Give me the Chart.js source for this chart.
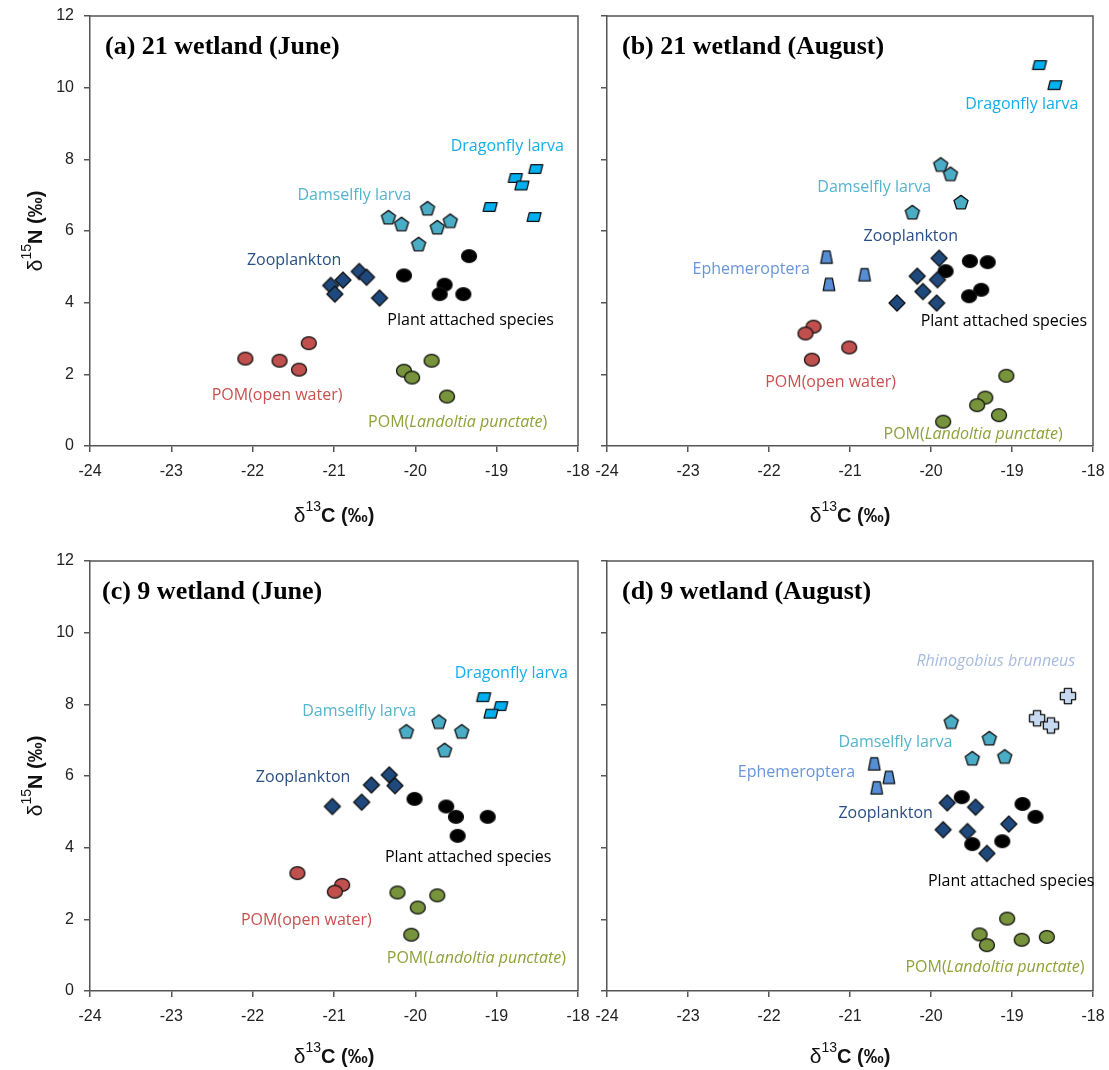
<!DOCTYPE html>
<html lang="en">
<head>
<meta charset="UTF-8">
<title>δ13C – δ15N biplots, wetlands 21 and 9</title>
<script src="https://cdn.jsdelivr.net/npm/chart.js"></script>
<style>
  body { margin: 0; background: #fff; }
  #wrap { position: relative; width: 1109px; height: 1070px; background: #fff; }
  #wrap canvas { position: absolute; }
</style>
</head>
<body>
<div id="wrap">
  <canvas id="pa" width="595" height="535" style="left:0;top:0"></canvas>
  <canvas id="pb" width="514" height="535" style="left:595px;top:0"></canvas>
  <canvas id="pc" width="595" height="525" style="left:0;top:545px"></canvas>
  <canvas id="pd" width="514" height="525" style="left:595px;top:545px"></canvas>
</div>
<script>
// axes
const xTicks = [-24, -23, -22, -21, -20, -19, -18];
const yTicks = [0, 2, 4, 6, 8, 10, 12];

// groups (index used below)
const groups = ['Dragonfly larva', 'Damselfly larva', 'Zooplankton', 'Ephemeroptera',
  'Plant attached species', 'POM(open water)', 'POM(Landoltia punctate)', 'Rhinogobius brunneus'];

// (a) 21 wetland, June   [d13C, d15N]
const aDragonfly = [[-18.52, 7.73], [-18.77, 7.48], [-18.69, 7.27], [-19.08, 6.67], [-18.54, 6.39]];
const aDamselfly = [[-19.85, 6.64], [-20.33, 6.39], [-20.17, 6.20], [-19.57, 6.29], [-19.73, 6.11], [-19.96, 5.64]];
const aZoo = [[-20.69, 4.87], [-20.89, 4.63], [-20.60, 4.71], [-21.04, 4.48], [-20.99, 4.24], [-20.44, 4.13]];
const aPlant = [[-19.34, 5.30], [-20.14, 4.76], [-19.64, 4.50], [-19.70, 4.24], [-19.41, 4.24]];
const aPomOpen = [[-21.31, 2.87], [-22.09, 2.44], [-21.67, 2.38], [-21.43, 2.13]];
const aPomLand = [[-19.80, 2.38], [-20.14, 2.10], [-20.04, 1.91], [-19.61, 1.38]];

// (b) 21 wetland, August
const bDragonfly = [[-18.66, 10.63], [-18.47, 10.07]];
const bDamselfly = [[-19.88, 7.86], [-19.76, 7.60], [-19.63, 6.81], [-20.23, 6.53]];
const bEphem = [[-21.29, 5.27], [-21.26, 4.51], [-20.82, 4.78]];
const bZoo = [[-19.90, 5.24], [-20.17, 4.74], [-19.92, 4.64], [-20.10, 4.31], [-20.42, 3.99], [-19.93, 3.99]];
const bPlant = [[-19.52, 5.16], [-19.30, 5.13], [-19.82, 4.88], [-19.38, 4.36], [-19.53, 4.18]];
const bPomOpen = [[-21.45, 3.33], [-21.55, 3.14], [-21.01, 2.75], [-21.47, 2.41]];
const bPomLand = [[-19.07, 1.96], [-19.33, 1.35], [-19.43, 1.14], [-19.16, 0.86], [-19.85, 0.68]];

// (c) 9 wetland, June
const cDragonfly = [[-19.16, 8.20], [-18.95, 7.95], [-19.07, 7.74]];
const cDamselfly = [[-19.71, 7.52], [-20.11, 7.25], [-19.43, 7.25], [-19.64, 6.73]];
const cZoo = [[-20.32, 6.03], [-20.54, 5.75], [-20.25, 5.73], [-20.66, 5.27], [-21.02, 5.15]];
const cPlant = [[-20.01, 5.36], [-19.62, 5.15], [-19.50, 4.86], [-19.11, 4.86], [-19.48, 4.33]];
const cPomOpen = [[-21.45, 3.29], [-20.90, 2.96], [-20.99, 2.77]];
const cPomLand = [[-20.22, 2.75], [-19.73, 2.67], [-19.97, 2.33], [-20.05, 1.57]];

// (d) 9 wetland, August
const dRhino = [[-18.31, 8.23], [-18.69, 7.61], [-18.52, 7.41]];
const dDamselfly = [[-19.75, 7.52], [-19.28, 7.06], [-19.49, 6.50], [-19.09, 6.55]];
const dEphem = [[-20.70, 6.34], [-20.52, 5.96], [-20.67, 5.67]];
const dZoo = [[-19.80, 5.25], [-19.45, 5.13], [-19.85, 4.50], [-19.55, 4.45], [-19.04, 4.66], [-19.31, 3.84]];
const dPlant = [[-19.62, 5.41], [-18.87, 5.22], [-18.71, 4.86], [-19.49, 4.10], [-19.12, 4.18]];
const dPomLand = [[-19.06, 2.02], [-19.40, 1.58], [-19.31, 1.28], [-18.88, 1.43], [-18.57, 1.51]];

// where the group names sit, in data units: [group, d13C, d15N]
const aLabels = [[0, -18.87, 8.35], [1, -20.75, 6.99], [2, -21.49, 5.19], [4, -19.32, 3.50], [5, -21.70, 1.40], [6, -19.48, 0.65]];
const bLabels = [[0, -18.88, 9.53], [1, -20.70, 7.21], [2, -20.25, 5.86], [3, -22.22, 4.94], [4, -19.10, 3.47], [5, -21.24, 1.77], [6, -19.48, 0.33]];
const cLabels = [[0, -18.82, 8.87], [1, -20.69, 7.81], [2, -21.38, 5.95], [4, -19.35, 3.73], [5, -21.34, 1.96], [6, -19.25, 0.90]];
const dLabels = [[7, -19.20, 9.21], [1, -20.44, 6.94], [3, -21.66, 6.10], [2, -20.56, 4.96], [4, -19.01, 3.06], [6, -19.21, 0.65]];

// ---------- styling ----------
const axisColor = '#555';
const tickFont = '"Liberation Sans", Arial, sans-serif';
const labelFamily = '"Open Sans", "Noto Sans", sans-serif';

const groupStyle = [
  { shape: 'para',    fill: '#00B0F0', text: '#14AEEA' },
  { shape: 'pentagon', fill: '#4BACC6', text: '#55B4CC' },
  { shape: 'diamond', fill: '#1F497D', text: '#2A4F86' },
  { shape: 'trap',    fill: '#558ED5', text: '#6A95DA' },
  { shape: 'ellipse', fill: '#000000', text: '#000000' },
  { shape: 'ellipse', fill: '#C0504D', text: '#C9504F' },
  { shape: 'ellipse', fill: '#77933C', text: '#8EA23A' },
  { shape: 'plus',    fill: '#C6D9F1', text: '#A8BCE0' }
];

function makeMarker(shape, fill) {
  const c = document.createElement('canvas');
  c.width = 20; c.height = 20;
  const g = c.getContext('2d');
  g.translate(10, 10);
  g.beginPath();
  if (shape === 'ellipse') {
    g.ellipse(0, 0, 7.5, 6.4, 0, 0, Math.PI * 2);
  } else if (shape === 'diamond') {
    g.moveTo(0, -8); g.lineTo(8, 0); g.lineTo(0, 8); g.lineTo(-8, 0); g.closePath();
  } else if (shape === 'pentagon') {
    for (let i = 0; i < 5; i++) {
      const a = -Math.PI / 2 + i * 2 * Math.PI / 5;
      g.lineTo(7.4 * Math.cos(a), 7.4 * Math.sin(a) + 0.8);
    }
    g.closePath();
  } else if (shape === 'para') {
    g.moveTo(-4.8, -4.3); g.lineTo(7, -4.3); g.lineTo(4.8, 4.3); g.lineTo(-7, 4.3); g.closePath();
  } else if (shape === 'trap') {
    g.moveTo(-3.4, -6.2); g.lineTo(3.4, -6.2); g.lineTo(5.8, 6.2); g.lineTo(-5.8, 6.2); g.closePath();
  } else if (shape === 'plus') {
    const a = 3.6, b = 7.6;
    g.moveTo(-a, -b); g.lineTo(a, -b); g.lineTo(a, -a); g.lineTo(b, -a); g.lineTo(b, a); g.lineTo(a, a);
    g.lineTo(a, b); g.lineTo(-a, b); g.lineTo(-a, a); g.lineTo(-b, a); g.lineTo(-b, -a); g.lineTo(-a, -a);
    g.closePath();
  }
  g.fillStyle = fill;
  g.fill();
  g.lineWidth = 1.3;
  g.lineJoin = 'round';
  g.strokeStyle = '#111';
  g.stroke();
  return c;
}
const markers = groupStyle.map(s => makeMarker(s.shape, s.fill));

function labelSegments(g) {
  if (g === 6) return [['POM(', false], ['Landoltia punctate', true], [')', false]];
  if (g === 7) return [['Rhinogobius brunneus', true]];
  return [[groups[g], false]];
}

function drawLabel(ctx, g, cx, cy) {
  const segs = labelSegments(g);
  const fonts = segs.map(s => (s[1] ? 'italic ' : '') + '16px ' + labelFamily);
  let w = 0;
  const ws = segs.map((s, i) => { ctx.font = fonts[i]; const m = ctx.measureText(s[0]).width; w += m; return m; });
  let x = cx - w / 2;
  ctx.fillStyle = groupStyle[g].text;
  ctx.textAlign = 'left';
  ctx.textBaseline = 'middle';
  segs.forEach((s, i) => { ctx.font = fonts[i]; ctx.fillText(s[0], x, cy); x += ws[i]; });
}

// δ13C (‰) / δ15N (‰), with raised isotope number
function drawIsoTitle(ctx, sup, letter, cx, by, rot) {
  const parts = [['δ', '21px ' + tickFont, 0], [sup, '14px ' + tickFont, -11], [letter + ' (‰)', 'bold 20px ' + tickFont, 0]];
  ctx.save();
  ctx.translate(cx, by);
  ctx.rotate(rot);
  ctx.textAlign = 'left';
  ctx.textBaseline = 'alphabetic';
  ctx.fillStyle = '#111';
  let w = 0;
  const ws = parts.map(p => { ctx.font = p[1]; const m = ctx.measureText(p[0]).width; w += m; return m; });
  let x = -w / 2;
  parts.forEach((p, i) => { ctx.font = p[1]; ctx.fillText(p[0], x, p[2]); x += ws[i]; });
  ctx.restore();
}

const panelInfo = {};

const decor = {
  id: 'decor',
  afterDraw(chart) {
    const info = panelInfo[chart.canvas.id];
    const { ctx, chartArea: ca, scales } = chart;
    ctx.save();
    ctx.strokeStyle = axisColor;
    ctx.lineWidth = 1.5;
    ctx.beginPath();
    ctx.moveTo(ca.left, ca.top);
    ctx.lineTo(ca.right, ca.top);
    ctx.lineTo(ca.right, ca.bottom);
    ctx.stroke();

    ctx.font = 'bold 26px "Liberation Serif", "Times New Roman", serif';
    ctx.fillStyle = '#000';
    ctx.textAlign = 'left';
    ctx.textBaseline = 'middle';
    ctx.fillText(info.title, ca.left + info.titleDx, ca.top + 31);

    info.labels.forEach(([g, x, y]) => drawLabel(ctx, g, scales.x.getPixelForValue(x), scales.y.getPixelForValue(y)));

    drawIsoTitle(ctx, '13', 'C', (ca.left + ca.right) / 2, ca.bottom + info.xTitleDy, 0);
    if (info.yTitle) drawIsoTitle(ctx, '15', 'N', 42, (ca.top + ca.bottom) / 2, -Math.PI / 2);
    ctx.restore();
  }
};

// keep the plot area fixed: no extra room reserved for end labels
function noPad(s) { s.paddingLeft = 0; s.paddingRight = 0; s.paddingTop = 0; s.paddingBottom = 0; }

function makePanel(id, title, series, labels, o) {
  panelInfo[id] = { title: title, labels: labels, titleDx: o.titleDx, xTitleDy: o.xTitleDy, yTitle: o.yLabels };
  const datasets = series.map(([g, pts]) => ({
    label: groups[g],
    data: pts.map(p => ({ x: p[0], y: p[1] })),
    pointStyle: markers[g],
    pointRadius: 8,
    pointHoverRadius: 8,
    showLine: false
  }));
  new Chart(document.getElementById(id), {
    type: 'scatter',
    data: { datasets },
    options: {
      responsive: false,
      animation: false,
      events: [],
      layout: { padding: { top: 16, right: o.padRight, left: 0, bottom: 0 } },
      plugins: { legend: { display: false }, tooltip: { enabled: false } },
      scales: {
        x: {
          type: 'linear', min: -24, max: -18,
          afterBuildTicks: s => { s.ticks = xTicks.map(v => ({ value: v })); },
          afterFit: s => { s.height = o.xAxisH; noPad(s); },
          ticks: { font: { family: tickFont, size: 16 }, color: '#222', padding: 10 },
          grid: { drawOnChartArea: false, drawTicks: true, tickLength: 6, color: axisColor, lineWidth: 1.5 },
          border: { display: true, color: axisColor, width: 1.5 }
        },
        y: {
          type: 'linear', min: 0, max: 12,
          afterBuildTicks: s => { s.ticks = yTicks.map(v => ({ value: v })); },
          afterFit: s => { s.width = o.yAxisW; noPad(s); },
          ticks: { display: o.yLabels, font: { family: tickFont, size: 16 }, color: '#222', padding: 10 },
          grid: { drawOnChartArea: false, drawTicks: true, tickLength: 6, color: axisColor, lineWidth: 1.5 },
          border: { display: true, color: axisColor, width: 1.5 }
        }
      }
    },
    plugins: [decor]
  });
}

makePanel('pa', '(a) 21 wetland (June)',
  [[0, aDragonfly], [1, aDamselfly], [2, aZoo], [4, aPlant], [5, aPomOpen], [6, aPomLand]],
  aLabels, { padRight: 17, yAxisW: 90, xAxisH: 89, yLabels: true, titleDx: 15, xTitleDy: 76 });

makePanel('pb', '(b) 21 wetland (August)',
  [[0, bDragonfly], [1, bDamselfly], [3, bEphem], [2, bZoo], [4, bPlant], [5, bPomOpen], [6, bPomLand]],
  bLabels, { padRight: 16, yAxisW: 12, xAxisH: 89, yLabels: false, titleDx: 15, xTitleDy: 76 });

makePanel('pc', '(c) 9 wetland (June)',
  [[0, cDragonfly], [1, cDamselfly], [2, cZoo], [4, cPlant], [5, cPomOpen], [6, cPomLand]],
  cLabels, { padRight: 17, yAxisW: 90, xAxisH: 79, yLabels: true, titleDx: 12, xTitleDy: 72 });

makePanel('pd', '(d) 9 wetland (August)',
  [[7, dRhino], [1, dDamselfly], [3, dEphem], [2, dZoo], [4, dPlant], [6, dPomLand]],
  dLabels, { padRight: 16, yAxisW: 12, xAxisH: 79, yLabels: false, titleDx: 15, xTitleDy: 72 });
</script>
</body>
</html>
